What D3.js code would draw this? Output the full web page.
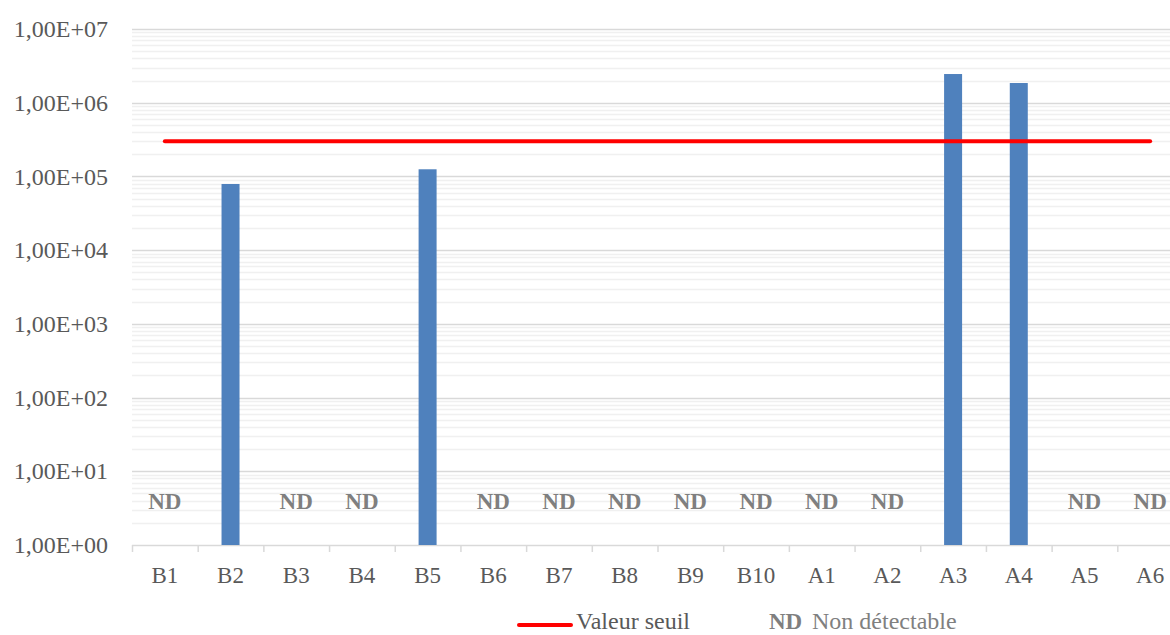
<!DOCTYPE html>
<html>
<head>
<meta charset="utf-8">
<script src="https://cdn.jsdelivr.net/npm/d3@7"></script>
<style>
  html, body { margin: 0; padding: 0; background: #ffffff; }
  svg { display: block; }
  text { font-family: "Liberation Serif", "Times New Roman", serif; }
</style>
</head>
<body>
<svg id="chart" width="1170" height="635"></svg>
<script>
// Sampling points
const categories = ["B1","B2","B3","B4","B5","B6","B7","B8","B9","B10","A1","A2","A3","A4","A5","A6"];
// Measured concentrations; null = not detectable (ND)
const values = [null, 7.9e4, null, null, 1.25e5, null, null, null, null, null, null, null, 2.45e6, 1.85e6, null, null];
// Threshold value applied to every sampling point
const threshold = [3e5,3e5,3e5,3e5,3e5,3e5,3e5,3e5,3e5,3e5,3e5,3e5,3e5,3e5,3e5,3e5];
// Log axis ticks and their labels
const yTicks = [1e0, 1e1, 1e2, 1e3, 1e4, 1e5, 1e6, 1e7];
const yTickLabels = ["1,00E+00","1,00E+01","1,00E+02","1,00E+03","1,00E+04","1,00E+05","1,00E+06","1,00E+07"];
// Height at which the "ND" markers sit
const ndLevel = 3.1;

const svg = d3.select("#chart");
const plotLeft = 132, plotRight = 1183, plotTop = 29, plotBottom = 545;

const x = d3.scaleBand().domain(categories).range([plotLeft, plotRight]).paddingInner(0).paddingOuter(0);
const y = d3.scaleLog().domain([1, 1e7]).range([plotBottom, plotTop]);

// Minor gridlines (2..9 within each decade)
const minor = [];
for (let e = 0; e < 7; e++) for (let m = 2; m <= 9; m++) minor.push(m * Math.pow(10, e));
svg.append("g").selectAll("line").data(minor).join("line")
  .attr("x1", plotLeft).attr("x2", plotRight)
  .attr("y1", d => Math.round(y(d)) + 0.5).attr("y2", d => Math.round(y(d)) + 0.5)
  .attr("stroke", "#f0f0f0").attr("stroke-width", 1.5);

// Major gridlines
svg.append("g").selectAll("line").data(yTicks.slice(1)).join("line")
  .attr("x1", plotLeft).attr("x2", plotRight)
  .attr("y1", d => Math.round(y(d)) + 0.5).attr("y2", d => Math.round(y(d)) + 0.5)
  .attr("stroke", "#d9d9d9").attr("stroke-width", 1.5);

// Y axis labels
const yAxis = d3.axisLeft(y).tickValues(yTicks).tickSize(0).tickPadding(24)
  .tickFormat((d, i) => yTickLabels[i]);
const gy = svg.append("g").attr("transform", `translate(${plotLeft},0)`).call(yAxis);
gy.select(".domain").remove();
gy.selectAll("text").attr("fill", "#595959").style("font-size", "24px")
  .style("font-family", "'Liberation Serif', serif");

// X axis with category ticks between bands
const gx = svg.append("g").attr("transform", `translate(0,${plotBottom})`);
gx.append("line").attr("x1", plotLeft).attr("x2", plotRight).attr("y1", 0.5).attr("y2", 0.5)
  .attr("stroke", "#d9d9d9").attr("stroke-width", 1.5);
gx.selectAll("line.tick").data(categories).join("line").attr("class", "tick")
  .attr("x1", d => x(d) + 0.5).attr("x2", d => x(d) + 0.5)
  .attr("y1", 0).attr("y2", 7)
  .attr("stroke", "#d9d9d9").attr("stroke-width", 1.5);
gx.selectAll("text").data(categories).join("text")
  .attr("x", d => x(d) + x.bandwidth() / 2).attr("y", 38)
  .attr("text-anchor", "middle").attr("fill", "#595959").style("font-size", "23px")
  .text(d => d);

// Bars
const barW = 18;
const data = categories.map((c, i) => ({ c, v: values[i], t: threshold[i] }));
svg.append("g").selectAll("rect").data(data.filter(d => d.v !== null)).join("rect")
  .attr("x", d => x(d.c) + x.bandwidth() / 2 - barW / 2)
  .attr("width", barW)
  .attr("y", d => y(d.v))
  .attr("height", d => y(1) - y(d.v))
  .attr("fill", "#4f81bd");

// ND markers
svg.append("g").selectAll("text").data(data.filter(d => d.v === null)).join("text")
  .attr("x", d => x(d.c) + x.bandwidth() / 2)
  .attr("y", y(ndLevel))
  .attr("text-anchor", "middle")
  .attr("fill", "#7f7f7f").style("font-size", "23px").style("font-weight", "bold")
  .text("ND");

// Threshold line
const line = d3.line().x(d => x(d.c) + x.bandwidth() / 2).y(d => y(d.t));
svg.append("path").datum(data).attr("d", line)
  .attr("fill", "none").attr("stroke", "#ff0000").attr("stroke-width", 4)
  .attr("stroke-linecap", "round");

// Legend
const lg = svg.append("g");
lg.append("line").attr("x1", 519).attr("x2", 571).attr("y1", 625).attr("y2", 625)
  .attr("stroke", "#ff0000").attr("stroke-width", 4).attr("stroke-linecap", "round");
lg.append("text").attr("x", 576).attr("y", 629).attr("fill", "#595959")
  .style("font-size", "24px").text("Valeur seuil");
lg.append("text").attr("x", 769).attr("y", 629).attr("fill", "#7f7f7f")
  .style("font-size", "23px").style("font-weight", "bold").text("ND");
lg.append("text").attr("x", 812).attr("y", 629).attr("fill", "#808080")
  .style("font-size", "24px").text("Non détectable");
</script>
</body>
</html>
